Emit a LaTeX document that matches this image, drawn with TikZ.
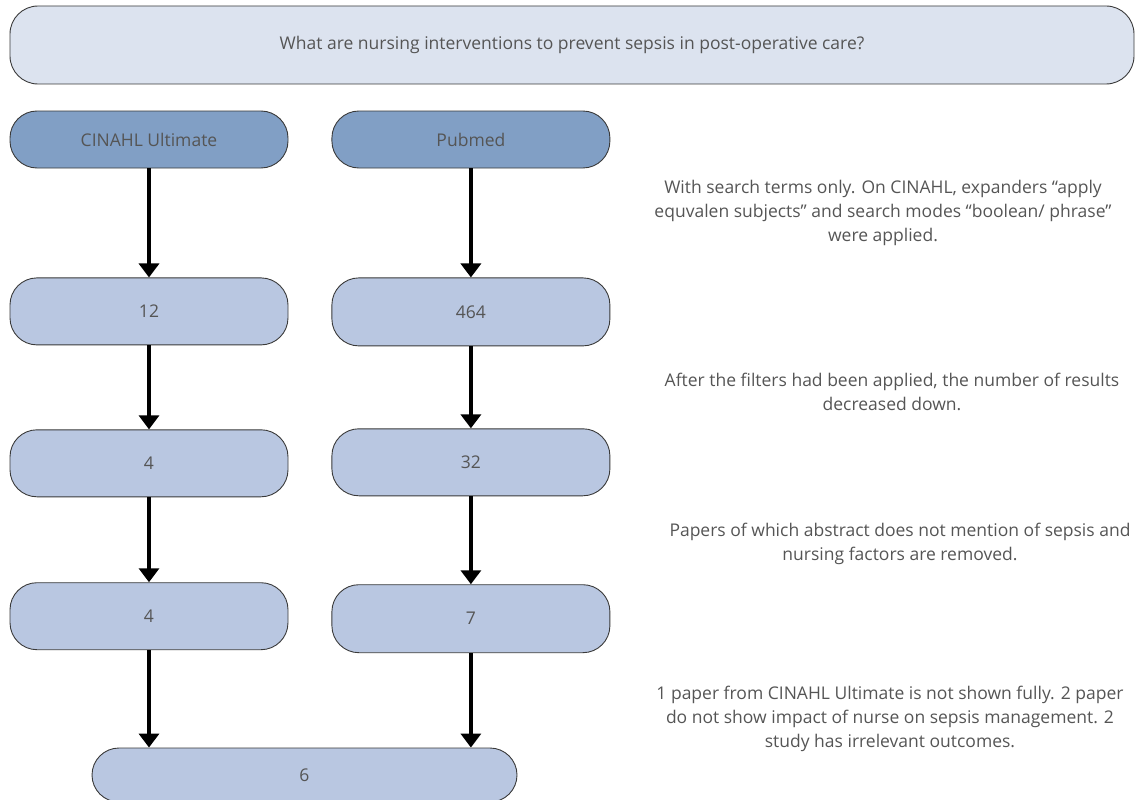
\documentclass[tikz,border=0pt]{standalone}
\usepackage{fontspec}
\setmainfont{Open Sans}
\usetikzlibrary{positioning, arrows.meta}
\definecolor{qfill}{HTML}{DCE3EF}
\definecolor{srcfill}{HTML}{819FC5}
\definecolor{cntfill}{HTML}{B9C7E1}
\definecolor{txtgray}{HTML}{555555}
\definecolor{edge}{HTML}{3A3A3A}
\tikzset{
box/.style={draw=edge, line width=0.9pt, text=txtgray, font=\fontsize{17.5}{21}\selectfont, inner sep=0},
question/.style={box, fill=qfill, minimum width=1124pt, minimum height=78pt, rounded corners=28pt},
source/.style={box, fill=srcfill, minimum width=278pt, minimum height=57pt, rounded corners=27pt},
count/.style={box, fill=cntfill, minimum width=278pt, minimum height=67pt, rounded corners=27pt},
result/.style={count, minimum width=425pt, minimum height=54pt},
note/.style={align=center, text=txtgray, font=\fontsize{17.5}{24}\selectfont},
flow/.style={-{Triangle[width=20pt, length=14pt]}, line width=3.6pt}}

\begin{document}
\begin{tikzpicture}[x=1pt, y=1pt]
\useasboundingbox (0,0) rectangle (1144,-800);
\node [question] (q) at (572,-45) {What are nursing interventions to prevent sepsis in post-operative care?};
\node [source] (cinahl) at (149,-139.5) {CINAHL Ultimate};
\node [source, right=43pt of cinahl] (pubmed) {Pubmed};
\node [count, below=109pt of cinahl] (c12) {12};
\node [count, below=84pt of c12] (c4) {4};
\node [count, below=85pt of c4] (cfinal) {4};
\node [count, below=109pt of pubmed, minimum height=68pt] (p464) {464};
\node [count, below=82pt of p464] (p32) {32};
\node [count, below=88pt of p32, minimum height=68pt] (p7) {7};
\node [result] (res) at (304.5,-775) {6};
% notes on the right
\node [note] (n1) at (883,-213) {With search terms only. On CINAHL, expanders “apply\\equvalen subjects” and search modes “boolean/ phrase”\\were applied.};
\node [note] (n2) at (892,-392) {After the filters had been applied, the number of results\\decreased down.};
\node [note] (n3) at (900,-544) {Papers of which abstract does not mention of sepsis and\\nursing factors are removed.};
\node [note] (n4) at (890,-719) {1 paper from CINAHL Ultimate is not shown fully. 2 paper\\do not show impact of nurse on sepsis management. 2\\study has irrelevant outcomes.};
\draw [flow] (cinahl) -- (c12);
\draw [flow] (c12) -- (c4);
\draw [flow] (c4) -- (cfinal);
\draw [flow] (pubmed) -- (p464);
\draw [flow] (p464) -- (p32);
\draw [flow] (p32) -- (p7);
\draw [flow] (cfinal.south) -- (cfinal.south |- res.north);
\draw [flow] (p7.south) -- (p7.south |- res.north);
\end{tikzpicture}
\end{document}
